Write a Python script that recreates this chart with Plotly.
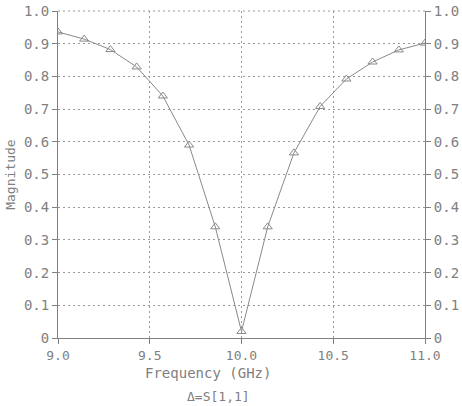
import plotly.graph_objects as go

freq_ghz = [9.0, 9.142857, 9.285714, 9.428571, 9.571429, 9.714286, 9.857143, 10.0,
            10.142857, 10.285714, 10.428571, 10.571429, 10.714286, 10.857143, 11.0]
s11_mag = [0.936, 0.914, 0.882, 0.829, 0.740, 0.590, 0.340, 0.020,
           0.340, 0.566, 0.708, 0.792, 0.844, 0.881, 0.902]
y_ticks = [0, 0.1, 0.2, 0.3, 0.4, 0.5, 0.6, 0.7, 0.8, 0.9, 1.0]
y_labels = ["0", "0.1", "0.2", "0.3", "0.4", "0.5", "0.6", "0.7", "0.8", "0.9", "1.0"]
x_ticks = [9.0, 9.5, 10.0, 10.5, 11.0]
x_labels = ["9.0", "9.5", "10.0", "10.5", "11.0"]

grey = "#808080"
txt = "#808080"
font = dict(family="DejaVu Sans Mono", size=13, color=txt)

fig = go.Figure()
fig.add_trace(go.Scatter(
    x=freq_ghz, y=s11_mag, mode="lines+markers",
    line=dict(color="#8a8a8a", width=1),
    marker=dict(symbol="triangle-up-open", size=8, color="#8a8a8a", line=dict(width=1)),
    showlegend=False, hoverinfo="skip"))
fig.add_trace(go.Scatter(
    x=freq_ghz, y=s11_mag, mode="lines", yaxis="y2", opacity=0,
    showlegend=False, hoverinfo="skip"))

grid = dict(showgrid=True, gridcolor="#9a9a9a", gridwidth=1, griddash="2px,3px")
common = dict(ticks="outside", ticklen=5, tickcolor=grey, showline=True,
              linecolor=grey, linewidth=1, zeroline=False, automargin=False)
fig.update_layout(
    width=462, height=406,
    margin=dict(l=58, r=37, t=11, b=68),
    paper_bgcolor="white", plot_bgcolor="white",
    font=font,
    xaxis=dict(range=[9.0, 11.0], tickvals=x_ticks, ticktext=x_labels,
               tickfont=dict(size=13), **common, **grid),
    yaxis=dict(range=[0, 1.0], tickvals=y_ticks, ticktext=y_labels,
               tickfont=dict(size=14), **common, **grid),
    yaxis2=dict(range=[0, 1.0], tickvals=y_ticks, ticktext=y_labels,
                overlaying="y", side="right", anchor="x", showgrid=False,
                tickfont=dict(size=14), **common),
    annotations=[
        dict(text="Frequency (GHz)", xref="paper", yref="paper",
             x=0.41, y=-0.108, yanchor="middle", showarrow=False,
             font=dict(size=14, color=txt)),
        dict(text="Magnitude", xref="paper", yref="paper", textangle=-90,
             x=-0.13, y=0.5, xanchor="center", yanchor="middle", showarrow=False,
             font=dict(size=13, color=txt)),
        dict(text="\u0394=S[1,1]", xref="paper", yref="paper",
             x=0.436, y=-0.18, yanchor="middle", showarrow=False,
             font=dict(size=13, color=txt)),
    ],
)
fig.add_shape(type="line", xref="paper", yref="paper", x0=0, x1=1, y0=1, y1=1,
              line=dict(color="#9a9a9a", width=1, dash="2px,3px"))

fig.write_html("out.html", config={"displayModeBar": False},
               post_script="document.body.style.margin='0';")
